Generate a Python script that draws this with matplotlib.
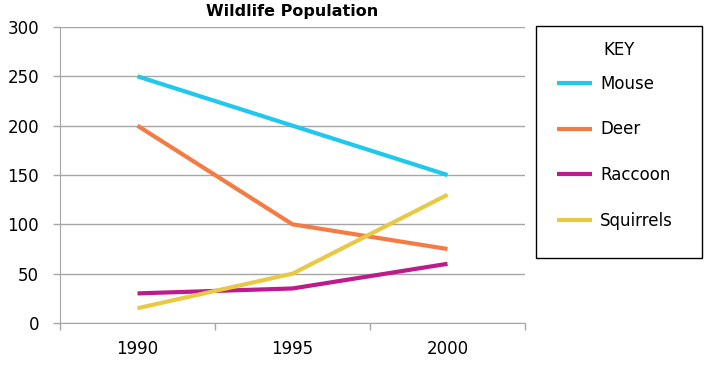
import matplotlib.pyplot as plt
from matplotlib.patches import Rectangle

plt.rcParams['font.family'] = ['DejaVu Sans']

years = ['1990', '1995', '2000']
mouse = [250, 200, 150]
deer = [200, 100, 75]
raccoon = [30, 35, 60]
squirrels = [15, 50, 130]

series = [('Mouse', mouse, '#1fc8ec'),
          ('Deer', deer, '#f47b43'),
          ('Raccoon', raccoon, '#bf1a8c'),
          ('Squirrels', squirrels, '#e8c945')]

W, H = 705, 370
fig = plt.figure(figsize=(W / 100, H / 100), dpi=100)
ax = fig.add_axes([60 / W, 1 - 323 / H, 465 / W, 296 / H])

x = range(len(years))
for name, vals, col in series:
    ax.plot(x, vals, color=col, lw=3, label=name, solid_capstyle='butt')

ax.set_xlim(-0.5, 2.5)
ax.set_ylim(0, 300)
ax.set_yticks(range(0, 301, 50))
ax.set_xticks(list(x))
ax.set_xticklabels(years)
ax.set_xticks([-0.5, 0.5, 1.5, 2.5], minor=True)

grid_c = '#a6a6a6'
ax.grid(axis='y', color=grid_c, lw=1)
ax.set_axisbelow(True)
for s in ['top', 'right']:
    ax.spines[s].set_visible(False)
for s in ['left', 'bottom']:
    ax.spines[s].set_color(grid_c)
ax.tick_params(axis='y', length=5, color=grid_c, width=1, pad=10, labelsize=12)
ax.tick_params(axis='x', which='major', length=0, pad=12, labelsize=12)
ax.tick_params(axis='x', which='minor', length=5, color=grid_c, width=1)

ax.set_title('Wildlife Population', fontsize=11.5, fontweight='bold', pad=8)

# key box
fig.patches.append(Rectangle((536 / W, 1 - 258 / H), 166 / W, 232 / H,
                             transform=fig.transFigure, fill=False,
                             edgecolor='black', lw=1))
fig.text(603 / W, 1 - 50 / H, 'KEY', fontsize=12, va='center', ha='left')
leg = fig.legend(loc='upper left', bbox_to_anchor=(557 / W, 1 - 75 / H),
                 frameon=False, fontsize=12, handlelength=2.1,
                 handletextpad=0.5, labelspacing=1.65, borderpad=0,
                 borderaxespad=0)

fig.savefig('out.png', dpi=100)
